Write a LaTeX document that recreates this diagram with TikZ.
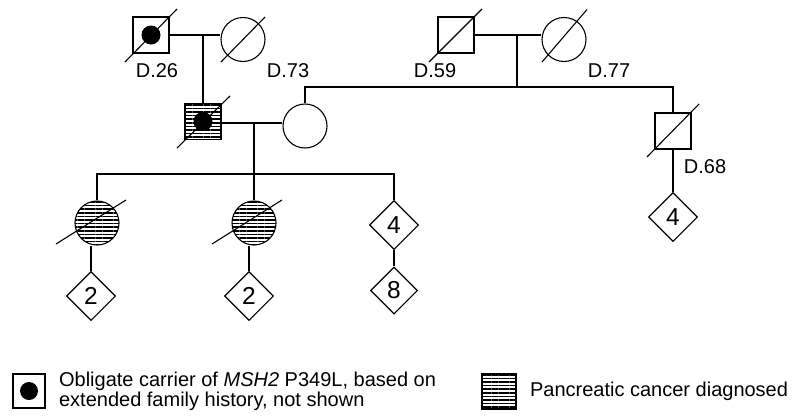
\documentclass[tikz,border=0pt]{standalone}
\usepackage{fontspec}
\setmainfont{Liberation Sans}
\usepackage{tikz}
\usetikzlibrary{shapes.geometric, patterns.meta, positioning}

\begin{document}
\begin{tikzpicture}[
  x=1pt, y=-1pt, line width=1.1pt,
  font=\fontsize{20}{18}\selectfont,
  male/.style={rectangle, draw=black, minimum size=36pt, inner sep=0pt},
  female/.style={circle, draw=black, minimum size=44pt, inner sep=0pt},
  unknown/.style={diamond, draw=black, minimum size=49pt, inner sep=0pt,
                  font=\fontsize{24.5}{24}\selectfont},
  hatched/.style={pattern={Lines[angle=0, distance=3.6pt, line width=1.7pt]}},
  carrier/.style={circle, fill=black, minimum size=19pt, inner sep=0pt},
  age/.style={inner sep=0pt}
]
  \useasboundingbox (0,0) rectangle (792,418);

  %% ── Generation I: two couples ─────────────────────────────────────
  \node[male]    (pgf)    at (151,35)   {};
  \node[carrier] (pgfdot) at (pgf)      {};
  \node[female]  (pgm)    at (243,39.5) {};
  \node[male]    (mgf)    at (456,35)   {};
  \node[female]  (mgm)    at (564,39.5) {};

  \node[age] (agepgf) at (157,71) {D.26};
  \node[age] (agepgm) at (288,71) {D.73};
  \node[age] (agemgf) at (435,71) {D.59};
  \node[age] (agemgm) at (609,71) {D.77};

  %% ── Generation II ─────────────────────────────────────────────────
  \node[male, hatched] (father)    at (203,121.5) {};
  \node[carrier]       (fatherdot) at (father)    {};
  \node[female]        (mother)    at (305,126)   {};
  \node[male]          (uncle)     at (673,131)   {};
  \node[age] (ageuncle) at (705,167) {D.68};

  %% ── Generation III ────────────────────────────────────────────────
  \node[female, hatched] (dau1)    at (97,223)  {};
  \node[female, hatched] (dau2)    at (254,223) {};
  \node[unknown]         (sibs)    at (394,225) {4};
  \node[unknown]         (cousins) at (673,217) {4};

  %% ── Generation IV ─────────────────────────────────────────────────
  \node[unknown] (gc1) at (91,296)  {2};
  \node[unknown] (gc2) at (249,296) {2};
  \node[unknown, minimum size=47pt] (gc3) at (394,290.5) {8};

  %% ── Deceased slashes ──────────────────────────────────────────────
  \draw ([shift={(-26,27)}]pgf.center)    -- ([shift={(26,-26)}]pgf.center);
  \draw ([shift={(-22,22.5)}]pgm.center)  -- ([shift={(22,-22.5)}]pgm.center);
  \draw ([shift={(-27,27)}]mgf.center)    -- ([shift={(26,-26)}]mgf.center);
  \draw ([shift={(-22,22.5)}]mgm.center)  -- ([shift={(23,-30)}]mgm.center);
  \draw ([shift={(-26,26.5)}]father.center) -- ([shift={(27,-25.5)}]father.center);
  \draw ([shift={(-26,26)}]uncle.center)  -- ([shift={(26,-27)}]uncle.center);
  \draw ([shift={(-41,21)}]dau1.center)   -- ([shift={(29,-23)}]dau1.center);
  \draw ([shift={(-42,21)}]dau2.center)   -- ([shift={(28,-23)}]dau2.center);

  %% ── Lines of descent ──────────────────────────────────────────────
  \coordinate (mate1) at (203,35);
  \coordinate (mate2) at (517,35);
  \coordinate (sib2)  at (517,87);
  \coordinate (mate3) at (254,123);
  \coordinate (sib3)  at (254,174);

  \draw (pgf.east) -- (pgm.west |- pgf.east);
  \draw (mate1) -- (father.north);
  \draw (mgf.east) -- (mgm.west |- mgf.east);
  \draw (mate2) -- (sib2);
  \draw (mother.north) |- (sib2) -| (uncle.north);
  \draw (father.east |- mate3) -- (mother.west |- mate3);
  \draw (mate3) -- (dau2.north);
  \draw (dau1.north) |- (sib3) -| (sibs.north);
  \draw (gc1.north) -- (gc1.north |- dau1.south);
  \draw (gc2.north) -- (gc2.north |- dau2.south);
  \draw (sibs.south) -- (gc3.north);
  \draw (uncle.south) -- (cousins.north);

  %% ── Legend ────────────────────────────────────────────────────────
  \node[rectangle, draw=black, minimum width=32pt, minimum height=34pt,
        inner sep=0pt] (key1) at (29,391) {};
  \node[carrier, minimum size=18pt] (key1dot) at (key1) {};
  \node[align=left, inner sep=0pt, right=13pt of key1] (key1text)
    {Obligate carrier of \textit{MSH2} P349L, based on\\extended family history, not shown};

  \node[rectangle, draw=black, hatched, minimum width=34pt, minimum height=35pt,
        inner sep=0pt] (key2) at (499,391.5) {};
  \node[inner sep=0pt, right=13pt of key2] (key2text) {Pancreatic cancer diagnosed};
\end{tikzpicture}
\end{document}
